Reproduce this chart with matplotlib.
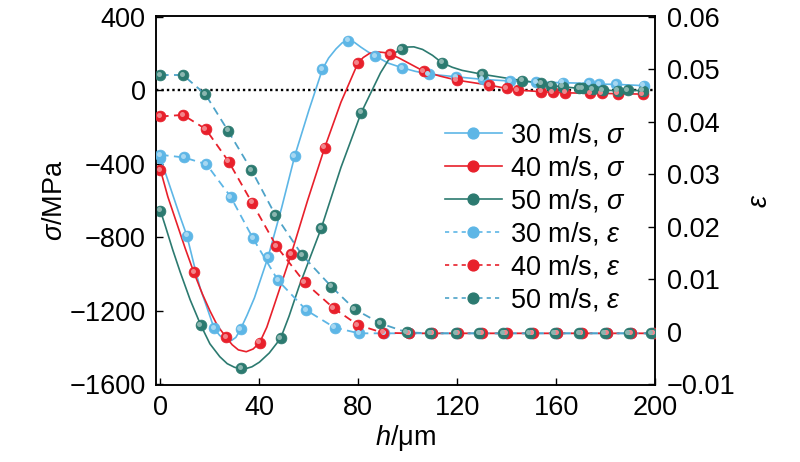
import matplotlib
matplotlib.use('Agg')
import matplotlib.pyplot as plt
from matplotlib.transforms import offset_copy
from matplotlib.lines import Line2D
import matplotlib.colors as mc

plt.rcParams['font.family'] = ['Liberation Sans', 'DejaVu Sans']
plt.rcParams['mathtext.fontset'] = 'custom'
plt.rcParams['mathtext.rm'] = 'Liberation Sans'
plt.rcParams['mathtext.it'] = 'Liberation Sans:italic'
plt.rcParams['font.size'] = 19.5

# colours
c30 = '#5db6e6'
c40 = '#e8202b'
c50 = '#2c7a70'
c50e = '#4ea3c8'

# --- stress sigma (MPa), markers
h_s30 = [0, 10.7, 21.7, 32.4, 43.5, 54.3, 65.5, 75.8, 86.9, 97.8, 108.5, 119.6, 130.3, 141.5, 151.9, 162.7, 173.5, 177.5, 184.2, 195.4]
s30 = [-370, -792, -1296, -1300, -909, -358, 114, 269, 186, 122, 88, 73, 59, 50, 45, 41, 37, 33, 32, 25]
h_s40 = [0, 13.5, 26.6, 40.1, 52.9, 66.4, 79.8, 92.9, 106.4, 119.8, 132.8, 140, 144.5, 153.9, 158.6, 163.8, 173.7, 178.4, 184.9, 195]
s40 = [-434, -991, -1345, -1374, -891, -313, 146, 197, 104, 55, 28, 10, 1, -8, -11, -14, -17, -17, -19, -21]
h_s50 = [0, 16.3, 32.6, 48.6, 65, 81.2, 97.6, 113.8, 130.1, 146.3, 154, 158, 162.7, 169.4, 170.7, 174.8, 178.8, 184.9, 189, 195]
s50 = [-656, -1278, -1513, -1350, -752, -122, 224, 150, 87, 52, 38, 25, 19, 10, 10, 5, 1, -3, 1, -3]

# --- stress curves (read denser off the picture)
lh30 = [0, 2.5, 5, 8, 10.7, 13.5, 16, 19, 21.7, 24, 26.5, 28.7, 30.5, 32.4, 35, 38, 43.5, 49, 54.3, 60, 65.5, 68, 71, 73.5, 75.8,
        78.5, 81, 84, 86.9, 92, 97.8, 103, 108.5, 119.6, 130.3, 141.5, 151.9, 162.7, 173.5, 177.5, 184.2, 195.4]
ls30 = [-370, -470, -570, -690, -792, -945, -1075, -1190, -1296, -1335, -1358, -1362, -1345, -1300, -1225, -1130, -909, -640, -358,
        -110, 114, 175, 225, 258, 269, 260, 235, 208, 186, 148, 122, 103, 88, 73, 59, 50, 45, 41, 37, 33, 32, 25]
lh40 = [0, 3, 6.5, 10, 13.5, 17, 20, 23, 26.6, 29, 31.5, 34.7, 37.5, 40.1, 43, 46, 52.9, 59.5, 66.4, 73, 79.8, 82, 84.5, 87.5, 90.5,
        92.9, 96.5, 100, 106.4, 113, 119.8, 132.8, 140, 144.5, 153.9, 158.6, 163.8, 173.7, 178.4, 184.9, 195]
ls40 = [-434, -580, -720, -860, -991, -1110, -1200, -1280, -1345, -1385, -1413, -1423, -1408, -1374, -1290, -1170, -891, -600, -313,
        -65, 146, 178, 200, 209, 205, 197, 175, 150, 104, 77, 55, 28, 10, 1, -8, -11, -14, -17, -17, -19, -21]
lh50 = [0, 2, 5, 8, 12, 16.3, 20, 24, 27, 30, 34, 37, 40, 44, 48.6, 52, 56, 65, 73, 81.2, 89, 92, 95, 97.6, 100, 102.5, 106, 110,
        113.8, 118, 122, 130.1, 146.3, 154, 158, 162.7, 169.4, 174.8, 178.8, 184.9, 189, 195]
ls50 = [-656, -740, -870, -990, -1140, -1278, -1380, -1450, -1488, -1508, -1517, -1505, -1480, -1430, -1350, -1230, -1070, -752,
        -420, -122, 95, 160, 205, 224, 235, 236, 222, 190, 150, 125, 108, 87, 52, 38, 25, 19, 10, 5, 1, -3, 1, -3]

# --- strain epsilon
h_e30 = [0, 9.5, 18.6, 28.4, 37.4, 47.5, 59, 70.4, 80.3, 90.5, 100.5, 110, 120, 129.8, 139.6, 150.2, 160.2, 170, 180.4, 190.1, 199.3]
e30 = [0.0337, 0.0332, 0.0319, 0.0257, 0.0178, 0.0098, 0.0041, 0.0008, -0.0003, -0.0003, -0.0003, -0.0003, -0.0003, -0.0003, -0.0003, -0.0003, -0.0003, -0.0003, -0.0003, -0.0003, -0.0003]
h_e40 = [0, 9.1, 18.3, 27.6, 37, 46.9, 58.3, 70, 79.8, 90, 100.4, 110, 120.5, 130, 140, 150.5, 160.5, 170.3, 180.6, 190.3, 199.5]
e40 = [0.0410, 0.0413, 0.0386, 0.0324, 0.0246, 0.0163, 0.0094, 0.0045, 0.0013, -0.0002, -0.0003, -0.0003, -0.0003, -0.0003, -0.0003, -0.0003, -0.0003, -0.0003, -0.0003, -0.0003, -0.0003]
h_e50 = [0, 9.1, 18.2, 27.3, 36.8, 46.5, 57.3, 69.1, 78.5, 88.9, 99.6, 109, 119.6, 129, 138.7, 149.3, 159.4, 169.2, 179.6, 189.3, 198.5]
e50 = [0.0489, 0.0489, 0.0452, 0.0383, 0.0308, 0.0222, 0.0146, 0.0086, 0.0043, 0.0016, -0.0001, -0.0003, -0.0003, -0.0003, -0.0003, -0.0003, -0.0003, -0.0003, -0.0003, -0.0003, -0.0003]

fig = plt.figure(figsize=(8, 4.62), dpi=100)
ax = fig.add_axes([0.195, 0.1667, 0.62375, 0.7987])
ax2 = ax.twinx()

s_lo, s_hi = -1604, 404
ax.set_ylim(s_lo, s_hi)
ax2.set_ylim(-0.01 + (s_lo + 1600) / 2000 * 0.07, -0.01 + (s_hi + 1600) / 2000 * 0.07)
ax.set_xlim(-1.8, 200)

ax.axhline(0, color='black', ls=(0, (1, 1.3)), lw=1.7, zorder=1)


def lighten(c, f):
    r, g, b = mc.to_rgb(c)
    return (r + (1 - r) * f, g + (1 - g) * f, b + (1 - b) * f)


def balls(a, x, y, col):
    a.plot(x, y, ls='none', marker='o', ms=7.8, mfc=col, mec=col, mew=0.5, zorder=4)
    tr = offset_copy(a.transData, fig=fig, x=-1.3, y=1.3, units='dots')
    a.plot(x, y, ls='none', marker='o', ms=3.6, mfc=lighten(col, 0.45), mew=0, transform=tr, zorder=5)


for lh, ls_, hx, sy, col in [(lh30, ls30, h_s30, s30, c30), (lh40, ls40, h_s40, s40, c40), (lh50, ls50, h_s50, s50, c50)]:
    ax.plot(lh, ls_, color=col, lw=1.2, zorder=3)
    balls(ax, hx, sy, col)

for hx, ey, col, lc in [(h_e30, e30, c30, c30), (h_e40, e40, c40, c40), (h_e50, e50, c50, c50e)]:
    ax2.plot(hx, ey, color=lc, lw=1.3, ls=(0, (4.5, 3)), zorder=3)
    balls(ax2, hx, ey, col)

ax.set_yticks([400, 0, -400, -800, -1200, -1600])
ax.set_yticklabels(['400', '0', '\u2212400', '\u2212800', '\u22121200', '\u22121600'])
ax.set_xticks([0, 40, 80, 120, 160, 200])
ax2.set_yticks([0.06, 0.05, 0.04, 0.03, 0.02, 0.01, 0, -0.01])
ax2.set_yticklabels(['0.06', '0.05', '0.04', '0.03', '0.02', '0.01', '0', '\u22120.01'])

ax.tick_params(axis='both', direction='in', length=5, width=1, pad=7.5)
ax.tick_params(axis='x', pad=7)
ax2.tick_params(axis='y', direction='in', length=5, width=1, pad=8.5)
for a in (ax, ax2):
    for sp in a.spines.values():
        sp.set_linewidth(1.1)

ax.set_xlabel(r'$h$/μm', labelpad=2)
ax.set_ylabel(r'$\sigma$/MPa', labelpad=1)
ax2.set_ylabel(r'$\varepsilon$', labelpad=8)

handles = []
labels = []
for col, lc, ls_, lab in [(c30, c30, '-', r'30 m/s, $\sigma$'), (c40, c40, '-', r'40 m/s, $\sigma$'), (c50, c50, '-', r'50 m/s, $\sigma$'),
                          (c30, c30, (0, (2.5, 2.5)), r'30 m/s, $\varepsilon$'), (c40, c40, (0, (2.5, 2.5)), r'40 m/s, $\varepsilon$'), (c50, c50e, (0, (2.5, 2.5)), r'50 m/s, $\varepsilon$')]:
    handles.append(Line2D([], [], color=lc, ls=ls_, lw=1.2, marker='o', ms=7.8, mfc=col, mec=col))
    labels.append(lab)
ax2.legend(handles, labels, loc='upper left', bbox_to_anchor=(0.556, 0.736), bbox_transform=fig.transFigure,
           frameon=False, numpoints=1, handlelength=2.1, handletextpad=0.3, labelspacing=0.22, borderpad=0, borderaxespad=0)

fig.savefig('out.png', dpi=100)
